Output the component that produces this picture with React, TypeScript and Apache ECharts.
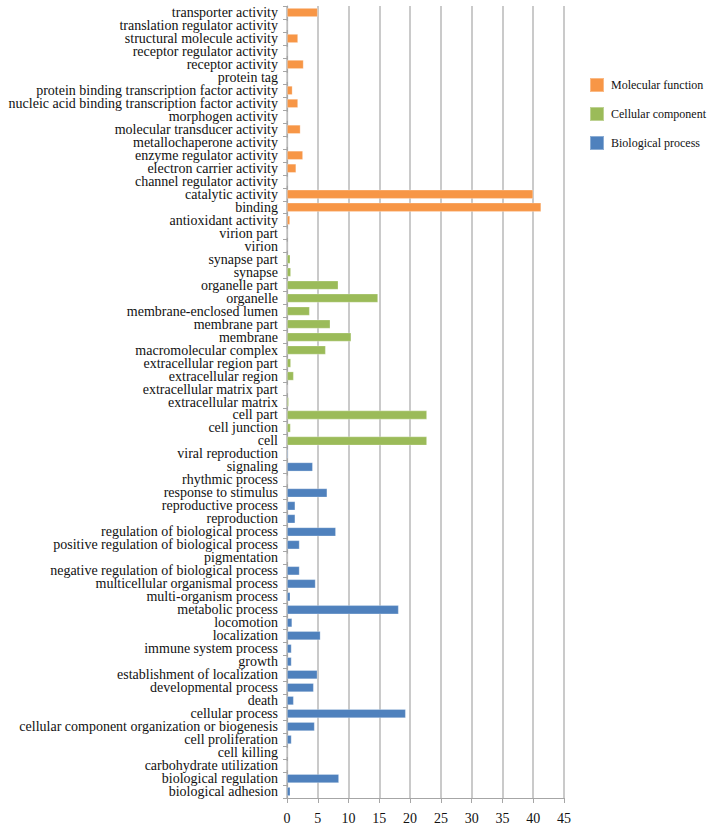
import React, { useEffect, useRef } from "react";
import * as echarts from "echarts";

// GO annotation counts (percent of genes), listed top to bottom as drawn.
const mfTerms = [
  "transporter activity",
  "translation regulator activity",
  "structural molecule activity",
  "receptor regulator activity",
  "receptor activity",
  "protein tag",
  "protein binding transcription factor activity",
  "nucleic acid binding transcription factor activity",
  "morphogen activity",
  "molecular transducer activity",
  "metallochaperone activity",
  "enzyme regulator activity",
  "electron carrier activity",
  "channel regulator activity",
  "catalytic activity",
  "binding",
  "antioxidant activity",
];
const mfValues = [5.0, 0, 1.8, 0, 2.7, 0, 0.9, 1.8, 0, 2.2, 0, 2.6, 1.5, 0, 40.0, 41.3, 0.5];

const ccTerms = [
  "virion part",
  "virion",
  "synapse part",
  "synapse",
  "organelle part",
  "organelle",
  "membrane-enclosed lumen",
  "membrane part",
  "membrane",
  "macromolecular complex",
  "extracellular region part",
  "extracellular region",
  "extracellular matrix part",
  "extracellular matrix",
  "cell part",
  "cell junction",
  "cell",
];
const ccValues = [0, 0, 0.55, 0.65, 8.35, 14.8, 3.7, 7.05, 10.45, 6.3, 0.65, 1.1, 0.1, 0.3, 22.75, 0.6, 22.75];

const bpTerms = [
  "viral reproduction",
  "signaling",
  "rhythmic process",
  "response to stimulus",
  "reproductive process",
  "reproduction",
  "regulation of biological process",
  "positive regulation of biological process",
  "pigmentation",
  "negative regulation of biological process",
  "multicellular organismal process",
  "multi-organism process",
  "metabolic process",
  "locomotion",
  "localization",
  "immune system process",
  "growth",
  "establishment of localization",
  "developmental process",
  "death",
  "cellular process",
  "cellular component organization or biogenesis",
  "cell proliferation",
  "cell killing",
  "carbohydrate utilization",
  "biological regulation",
  "biological adhesion",
];
const bpValues = [
  0.2, 4.2, 0.05, 6.55, 1.35, 1.35, 7.95, 2.05, 0.1, 2.05, 4.65, 0.55, 18.15, 0.85, 5.45, 0.75, 0.75,
  4.95, 4.35, 1.1, 19.3, 4.5, 0.75, 0, 0, 8.45, 0.55,
];

const groupNames = ["Molecular function", "Cellular component", "Biological process"];
const groupColors = ["#F79646", "#9BBB59", "#4F81BD"];

const xTicks = { min: 0, max: 45, interval: 5 };

const FONT = "'Liberation Serif', 'Times New Roman', serif";

export default function App() {
  const ref = useRef<HTMLDivElement>(null);

  useEffect(() => {
    if (!ref.current) return;
    const chart = echarts.init(ref.current, undefined, { renderer: "svg" });

    const categories = [...mfTerms, ...ccTerms, ...bpTerms];
    const groups = [mfValues, ccValues, bpValues];
    const offsets = [0, mfTerms.length, mfTerms.length + ccTerms.length];

    const series = groups.map((vals, gi) => {
      const data: (number | string)[] = categories.map(() => "-");
      vals.forEach((v, i) => {
        data[offsets[gi] + i] = v;
      });
      return {
        name: groupNames[gi],
        type: "bar" as const,
        stack: "go",
        data,
        barWidth: "70%",
        itemStyle: {
          color: groupColors[gi],
          borderColor: "rgba(255,255,255,0.35)",
          borderWidth: 0.8,
        },
      };
    });

    chart.setOption({
      animation: false,
      textStyle: { fontFamily: FONT },
      legend: {
        orient: "vertical",
        left: 584,
        top: 72,
        itemWidth: 14,
        itemHeight: 14,
        itemGap: 13,
        icon: "rect",
        data: groupNames,
        textStyle: { fontFamily: FONT, fontSize: 12, color: "#111", padding: [0, 0, 0, 2] },
      },
      grid: { left: 287, right: 144, top: 6, bottom: 29, containLabel: false },
      xAxis: {
        type: "value",
        min: xTicks.min,
        max: xTicks.max,
        interval: xTicks.interval,
        axisLine: { show: true, lineStyle: { color: "#A6A6A6", width: 1.2 } },
        axisTick: { show: true, length: 5, lineStyle: { color: "#A6A6A6" } },
        axisLabel: { fontFamily: FONT, fontSize: 14, color: "#111", margin: 13 },
        splitLine: { show: true, lineStyle: { color: "#BDBDBD", width: 1.6 } },
      },
      yAxis: {
        type: "category",
        inverse: true,
        data: categories,
        axisLine: { show: true, lineStyle: { color: "#A6A6A6", width: 1.2 } },
        axisTick: { show: true, length: 4, lineStyle: { color: "#A6A6A6" } },
        axisLabel: {
          fontFamily: FONT,
          fontSize: 14,
          lineHeight: 12,
          color: "#111",
          margin: 9,
          interval: 0,
        },
        splitLine: { show: false },
      },
      series,
    });

    return () => chart.dispose();
  }, []);

  return (
    <div
      ref={ref}
      style={{ position: "fixed", left: 0, top: 0, width: 708, height: 827, background: "#fff" }}
    />
  );
}
